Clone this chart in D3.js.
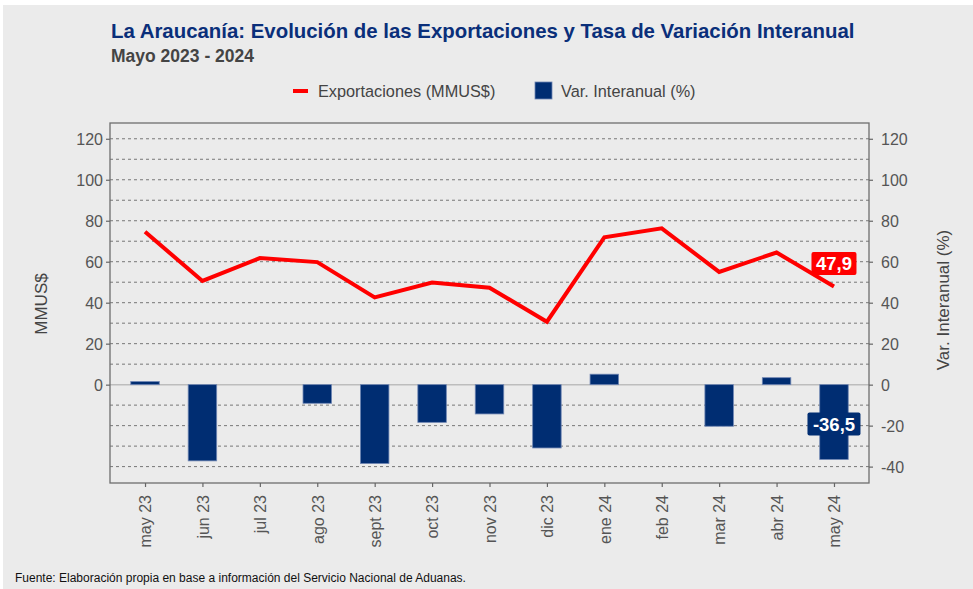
<!DOCTYPE html>
<html lang="es">
<head>
<meta charset="utf-8">
<script src="https://cdn.jsdelivr.net/npm/d3@7"></script>
<style>
  html, body { margin: 0; padding: 0; background: #fff; }
  svg { display: block; font-family: "Liberation Sans", Arial, sans-serif; }
  .tick text { fill: #555; font-size: 16px; }
  .tick line { stroke: #666; }
  .domain { display: none; }
</style>
</head>
<body>
<div id="chart"></div>
<script>
// -----------------------------------------------------------------------
// Data
// -----------------------------------------------------------------------
const months = [
  "may 23", "jun 23", "jul 23", "ago 23", "sept 23", "oct 23", "nov 23",
  "dic 23", "ene 24", "feb 24", "mar 24", "abr 24", "may 24",
];
const exportaciones = [74.6, 50.6, 61.8, 59.8, 42.6, 49.8, 47.3, 30.7, 71.9, 76.3, 55.0, 64.5, 47.9];
const varInteranual = [1.5, -37.2, 0, -9.1, -38.5, -18.4, -14.3, -30.9, 5.1, 0, -20.3, 3.4, -36.5];
const leftTicks = [0, 20, 40, 60, 80, 100, 120];
const rightTicks = [-40, -20, 0, 20, 40, 60, 80, 100, 120];
const gridValues = d3.range(-40, 121, 10).filter(v => v !== 0);

const W = 973, H = 589;
const plot = { left: 110, right: 869, top: 123, bottom: 483 };

const svg = d3.select("#chart").append("svg")
  .attr("width", W).attr("height", H);

// panel background
svg.append("rect")
  .attr("x", 3).attr("y", 5).attr("width", W - 3).attr("height", H - 5)
  .attr("fill", "#ebebeb");

// -----------------------------------------------------------------------
// Scales — both axes share the same range
// -----------------------------------------------------------------------
const x = d3.scalePoint().domain(months)
  .range([plot.left, plot.right]).padding(0.61);
const y = d3.scaleLinear().domain([-48, 127.7])
  .range([plot.bottom, plot.top]);

// gridlines
svg.append("g").selectAll("line").data(gridValues).join("line")
  .attr("x1", plot.left).attr("x2", plot.right)
  .attr("y1", d => y(d)).attr("y2", d => y(d))
  .attr("stroke", "#777").attr("stroke-width", 1)
  .attr("stroke-dasharray", "3,3");

// zero line
svg.append("line")
  .attr("x1", plot.left).attr("x2", plot.right)
  .attr("y1", y(0)).attr("y2", y(0))
  .attr("stroke", "#bdbdbd").attr("stroke-width", 1.5);

// bars (months with 0 have no visible bar)
const barData = months.map((m, i) => ({ month: m, value: varInteranual[i] }))
  .filter(d => d.value !== 0);
const barW = 28.5;
svg.append("g").selectAll("rect").data(barData).join("rect")
  .attr("x", d => x(d.month) - barW / 2)
  .attr("width", barW)
  .attr("y", d => y(Math.max(0, d.value)))
  .attr("height", d => Math.abs(y(d.value) - y(0)))
  .attr("fill", "#002d72")
  .attr("stroke", "#6f86b3").attr("stroke-width", 0.8);

// line
const line = d3.line()
  .x((d, i) => x(months[i]))
  .y(d => y(d));
svg.append("path").datum(exportaciones)
  .attr("d", line)
  .attr("fill", "none")
  .attr("stroke", "#ff0000").attr("stroke-width", 4)
  .attr("stroke-linejoin", "miter");

// plot frame
svg.append("rect")
  .attr("x", plot.left).attr("y", plot.top)
  .attr("width", plot.right - plot.left).attr("height", plot.bottom - plot.top)
  .attr("fill", "none").attr("stroke", "#6e6e6e").attr("stroke-width", 1.3);

// -----------------------------------------------------------------------
// Axes
// -----------------------------------------------------------------------
svg.append("g")
  .attr("transform", `translate(${plot.left},0)`)
  .call(d3.axisLeft(y).tickValues(leftTicks).tickSize(4).tickPadding(3))
  .selectAll("text").attr("dy", "0.36em");

svg.append("g")
  .attr("transform", `translate(${plot.right},0)`)
  .call(d3.axisRight(y).tickValues(rightTicks).tickSize(4).tickPadding(8)
    .tickFormat(d => String(d)))
  .selectAll("text").attr("dy", "0.36em");

svg.append("g")
  .attr("transform", `translate(0,${plot.bottom})`)
  .call(d3.axisBottom(x).tickSize(4))
  .selectAll("text")
  .attr("transform", "rotate(-90)")
  .attr("text-anchor", "end")
  .attr("x", -12).attr("y", 0).attr("dy", "0.36em");

svg.selectAll(".tick line").attr("stroke-width", 1.2);

// axis titles
svg.append("text")
  .attr("transform", "translate(47,304) rotate(-90)")
  .attr("text-anchor", "middle")
  .attr("fill", "#444").attr("font-size", 17)
  .text("MMUS$");

svg.append("text")
  .attr("transform", "translate(949,300) rotate(-90)")
  .attr("text-anchor", "middle")
  .attr("fill", "#444").attr("font-size", 17)
  .text("Var. Interanual (%)");

// -----------------------------------------------------------------------
// Data labels for the last month
// -----------------------------------------------------------------------
const fmt = v => v.toFixed(1).replace(".", ",");
const last = months.length - 1;

function labelBox(cx, cy, w, text, fill) {
  svg.append("rect")
    .attr("x", cx - w / 2).attr("y", cy - 11.5)
    .attr("width", w).attr("height", 23).attr("rx", 2)
    .attr("fill", fill);
  svg.append("text")
    .attr("x", cx).attr("y", cy).attr("dy", "0.36em")
    .attr("text-anchor", "middle")
    .attr("fill", "#fff").attr("font-weight", "bold").attr("font-size", 18.5)
    .text(text);
}
labelBox(x(months[last]), y(exportaciones[last]) - 23, 45, fmt(exportaciones[last]), "#ff0000");
labelBox(x(months[last]), (y(0) + y(varInteranual[last])) / 2 + 2, 53, fmt(varInteranual[last]), "#002d72");

// -----------------------------------------------------------------------
// Titles, legend, source
// -----------------------------------------------------------------------
svg.append("text")
  .attr("x", 111).attr("y", 38)
  .attr("fill", "#0a2f7a").attr("font-weight", "bold").attr("font-size", 20.4)
  .text("La Araucanía: Evolución de las Exportaciones y Tasa de Variación Interanual");

svg.append("text")
  .attr("x", 111).attr("y", 62)
  .attr("fill", "#444").attr("font-weight", "bold").attr("font-size", 17.5)
  .text("Mayo 2023 - 2024");

const legend = svg.append("g").attr("font-size", 16.3).attr("fill", "#444");
legend.append("rect")
  .attr("x", 293).attr("y", 89).attr("width", 15).attr("height", 4)
  .attr("fill", "#ff0000");
legend.append("text").attr("x", 318).attr("y", 91).attr("dy", "0.36em")
  .text("Exportaciones (MMUS$)");
legend.append("rect")
  .attr("x", 535).attr("y", 82).attr("width", 17).attr("height", 17)
  .attr("fill", "#002d72").attr("stroke", "#6f86b3").attr("stroke-width", 0.8);
legend.append("text").attr("x", 561).attr("y", 91).attr("dy", "0.36em")
  .text("Var. Interanual (%)");

svg.append("text")
  .attr("x", 15).attr("y", 582)
  .attr("fill", "#111").attr("font-size", 12)
  .text("Fuente: Elaboración propia en base a información del Servicio Nacional de Aduanas.");
</script>
</body>
</html>
